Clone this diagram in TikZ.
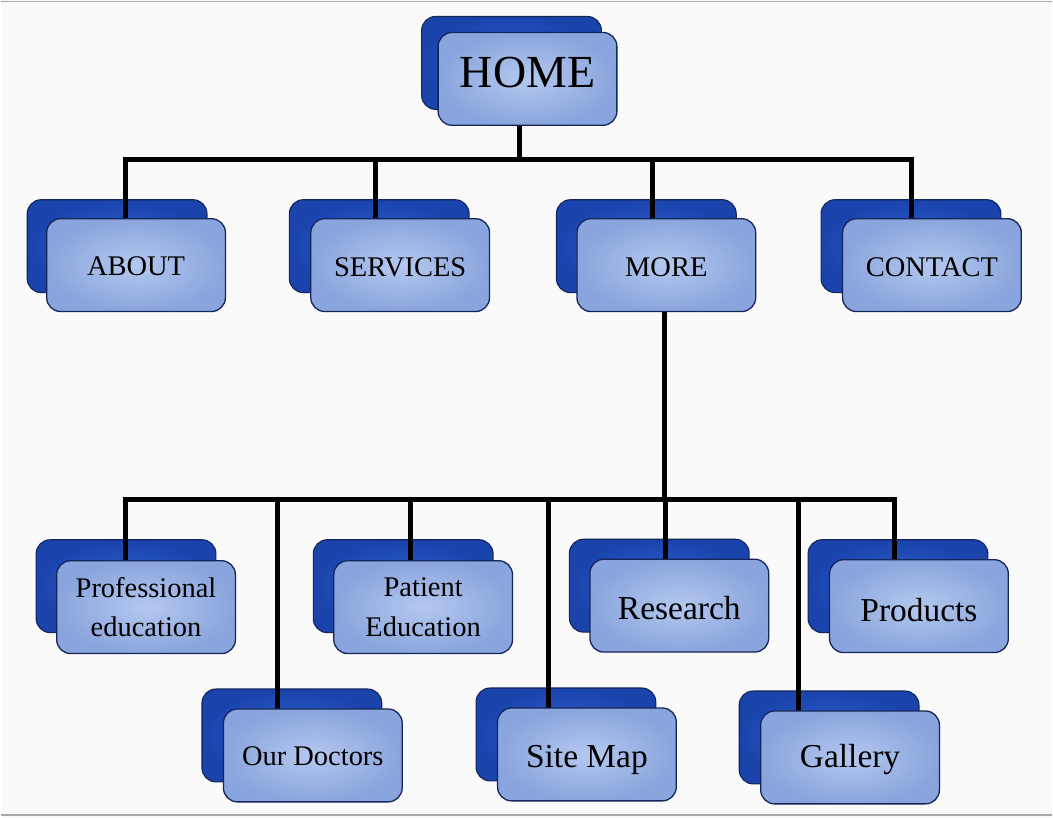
\documentclass[tikz,border=0pt]{standalone}
\usepackage{fontspec}
\setmainfont{Liberation Serif}
\usetikzlibrary{calc}
\pgfdeclarelayer{pagel}
\pgfdeclarelayer{backl}
\pgfdeclarelayer{linel}
\pgfsetlayers{pagel,backl,linel,main}
\definecolor{bordc}{HTML}{14255A}
\definecolor{frin}{HTML}{B4C8EF}
\definecolor{frout}{HTML}{8AA5DD}
\definecolor{bkin}{HTML}{3062D2}
\definecolor{bkout}{HTML}{1A43AC}
\definecolor{pagebg}{HTML}{FAFAFA}
\definecolor{rulec}{HTML}{A8A8A8}
\begin{document}
\begin{tikzpicture}[x=1pt,y=-1pt,
  frontbox/.style={draw=bordc,line width=1.3pt,rounded corners=14pt,
    minimum width=179pt,minimum height=93pt,inner sep=0pt,
    inner color=frin,outer color=frout,align=center,
    font=\fontsize{28.5}{40}\selectfont},
  bigtxt/.style={font=\fontsize{33.5}{40}\selectfont},
  bl/.style={text height=#1pt,text depth=0pt},
  backbox/.style={draw=bordc,line width=1.1pt,rounded corners=14pt,
    minimum width=180pt,minimum height=93pt,inner sep=0pt,
    inner color=bkin,outer color=bkout},
  conn/.style={line width=5pt,line cap=rect,draw=black}]
\begin{pgfonlayer}{pagel}
\fill[pagebg] (0,0) rectangle (1053,819);
\draw[rulec,line width=1.5pt] (0,1.5) -- (1053,1.5);
\draw[rulec,line width=1.5pt] (0,816) -- (1053,816);
\end{pgfonlayer}
\useasboundingbox (0,0) rectangle (1053,819);

% front boxes
\node[frontbox,font=\fontsize{46}{50}\selectfont,bl=18] (home) at (527.5,79) {HOME};
\node[frontbox,bl=21] (about) at (135.5,265.5) {ABOUT};
\node[frontbox,bl=22] (services) at (400,265.5) {SERVICES};
\node[frontbox,bl=23] (more) at (666.5,265.5) {MORE};
\node[frontbox,bl=22] (contact) at (932.5,265.5) {CONTACT};
\node[frontbox] (prof) at (145.5,608) {Professional\\education};
\node[frontbox] (patient) at (423,608) {Patient\\Education};
\node[frontbox,bigtxt,bl=27] (research) at (679.5,606.5) {Research};
\node[frontbox,bigtxt,bl=30] (products) at (919.5,607) {Products};
\node[frontbox,bl=21] (doctors) at (312.5,756.5) {Our Doctors};
\node[frontbox,bigtxt,bl=27] (sitemap) at (587,755.5) {Site Map};
\node[frontbox,bigtxt,bl=21] (gallery) at (850.5,758.5) {Gallery};

% back boxes
\begin{pgfonlayer}{backl}
\node[backbox] (homeb) at ($(home)+(-16,-16)$) {};
\node[backbox] (aboutb) at ($(about)+(-19,-19)$) {};
\node[backbox] (servicesb) at ($(services)+(-21,-19)$) {};
\node[backbox] (moreb) at ($(more)+(-20,-19)$) {};
\node[backbox] (contactb) at ($(contact)+(-21,-19)$) {};
\node[backbox] (profb) at ($(prof)+(-20,-21)$) {};
\node[backbox] (patientb) at ($(patient)+(-20,-21)$) {};
\node[backbox] (researchb) at ($(research)+(-20,-20)$) {};
\node[backbox] (productsb) at ($(products)+(-21,-20)$) {};
\node[backbox] (doctorsb) at ($(doctors)+(-21,-20)$) {};
\node[backbox] (sitemapb) at ($(sitemap)+(-21,-20)$) {};
\node[backbox] (galleryb) at ($(gallery)+(-21,-20)$) {};
\end{pgfonlayer}

% connectors
\coordinate (t0) at (519,160);
\coordinate (tA) at (125,160);
\coordinate (tS) at (375,160);
\coordinate (tM) at (653,160);
\coordinate (tC) at (912,160);
\coordinate (u0) at (665,500);
\coordinate (uP) at (125,500);
\coordinate (uD) at (277,500);
\coordinate (uE) at (410,500);
\coordinate (uS) at (549,500);
\coordinate (uR) at (666,500);
\coordinate (uG) at (799,500);
\coordinate (uQ) at (895,500);
\begin{pgfonlayer}{linel}
\draw[conn] (home.south -| t0) -- (t0);
\draw[conn] (tA |- about.north) -- (tA) -- (tC) -- (tC |- contact.north);
\draw[conn] (tS) -- (tS |- services.north);
\draw[conn] (tM) -- (tM |- more.north);
\draw[conn] (more.south -| u0) -- (u0);
\draw[conn] (uP |- prof.north) -- (uP) -- (uQ) -- (uQ |- products.north);
\draw[conn] (uD) -- (uD |- doctors.north);
\draw[conn] (uE) -- (uE |- patient.north);
\draw[conn] (uS) -- (uS |- sitemap.north);
\draw[conn] (uR) -- (uR |- research.north);
\draw[conn] (uG) -- (uG |- gallery.north);
\end{pgfonlayer}
\end{tikzpicture}
\end{document}
